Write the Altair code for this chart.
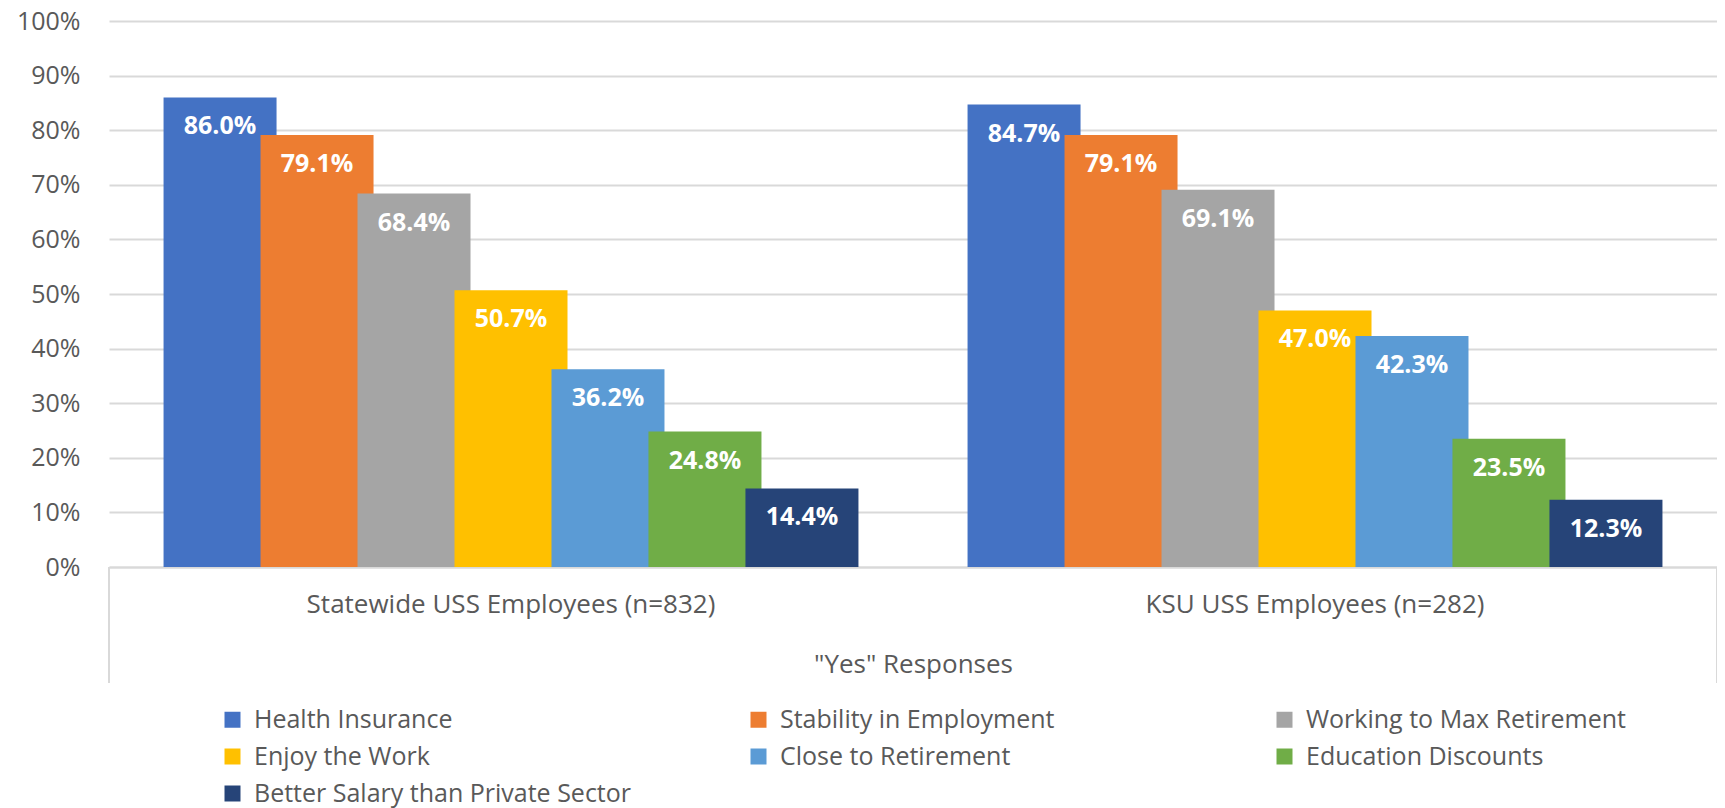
import altair as alt
import pandas as pd

groups = ["Statewide USS Employees (n=832)", "KSU USS Employees (n=282)"]
categories = [
    "Health Insurance",
    "Stability in Employment",
    "Working to Max Retirement",
    "Enjoy the Work",
    "Close to Retirement",
    "Education Discounts",
    "Better Salary than Private Sector",
]
statewide = [0.860, 0.791, 0.684, 0.507, 0.362, 0.248, 0.144]
ksu = [0.847, 0.791, 0.691, 0.470, 0.423, 0.235, 0.123]
colors = ["#4472C4", "#ED7D31", "#A5A5A5", "#FFC000", "#5B9BD5", "#70AD47", "#264478"]
y_ticks = [0, 0.1, 0.2, 0.3, 0.4, 0.5, 0.6, 0.7, 0.8, 0.9, 1.0]

rows = []
for g, vals in zip(groups, [statewide, ksu]):
    for c, v in zip(categories, vals):
        rows.append({"group": g, "category": c, "value": v})
df = pd.DataFrame(rows)

FONT = "Open Sans"
W, H = 1608, 546

x_enc = alt.X(
    "group:N",
    sort=groups,
    scale=alt.Scale(paddingInner=0, paddingOuter=0),
    axis=alt.Axis(
        title='"Yes" Responses',
        labelAngle=0,
        labelFontSize=26,
        labelColor="#595959",
        labelFont=FONT,
        labelPadding=24,
        titleFont=FONT,
        titleFontSize=26,
        titleFontWeight="normal",
        titleColor="#595959",
        titlePadding=34,
        ticks=False,
        domain=True,
        domainColor="#D9D9D9",
        domainWidth=2,
        labelLimit=800,
    ),
)
xoff_enc = alt.XOffset(
    "category:N",
    sort=categories,
    scale=alt.Scale(paddingInner=0, paddingOuter=0.645),
)
y_enc = alt.Y(
    "value:Q",
    scale=alt.Scale(domain=[0, 1], nice=False),
    axis=alt.Axis(
        title=None,
        format=".0%",
        values=y_ticks,
        labelFontSize=25,
        labelColor="#595959",
        labelFont=FONT,
        labelPadding=29,
        ticks=False,
        domain=False,
        gridColor="#D9D9D9",
        gridWidth=2,
    ),
)
color_enc = alt.Color(
    "category:N",
    sort=categories,
    scale=alt.Scale(domain=categories, range=colors),
    legend=alt.Legend(
        title=None,
        orient="none",
        direction="horizontal",
        legendX=111,
        legendY=686,
        columns=3,
        gridAlign="all",
        columnPadding=114,
        rowPadding=11,
        symbolType="square",
        symbolSize=256,
        symbolStrokeWidth=0,
        labelFontSize=25,
        labelFont=FONT,
        labelColor="#595959",
        labelLimit=700,
        labelOffset=9,
    ),
)

base = alt.Chart(df)
bars = base.mark_bar(width=113).encode(x=x_enc, xOffset=xoff_enc, y=y_enc, color=color_enc)
labels = base.mark_text(
    color="white", font=FONT, fontSize=25, fontWeight="bold", baseline="middle", dy=29
).encode(x=x_enc, xOffset=xoff_enc, y="value:Q", text=alt.Text("value:Q", format=".1%"))

edge_df = pd.DataFrame({"edge": ["left"]})
left_rule = alt.Chart(edge_df).mark_rule(color="#D9D9D9", strokeWidth=2).encode(
    x=alt.value(0), y=alt.value(H), y2=alt.value(H + 116)
)
right_rule = alt.Chart(edge_df).mark_rule(color="#D9D9D9", strokeWidth=2).encode(
    x=alt.value(W), y=alt.value(H), y2=alt.value(H + 116)
)

chart = (
    alt.layer(bars, labels, left_rule, right_rule)
    .properties(
        width=W,
        height=H,
        autosize=alt.AutoSizeParams(type="none"),
        padding={"left": 101, "top": 13, "right": 0, "bottom": 241},
    )
    .configure_view(stroke=None)
)

chart.save("out.html", embed_options={"renderer": "svg", "actions": False})
